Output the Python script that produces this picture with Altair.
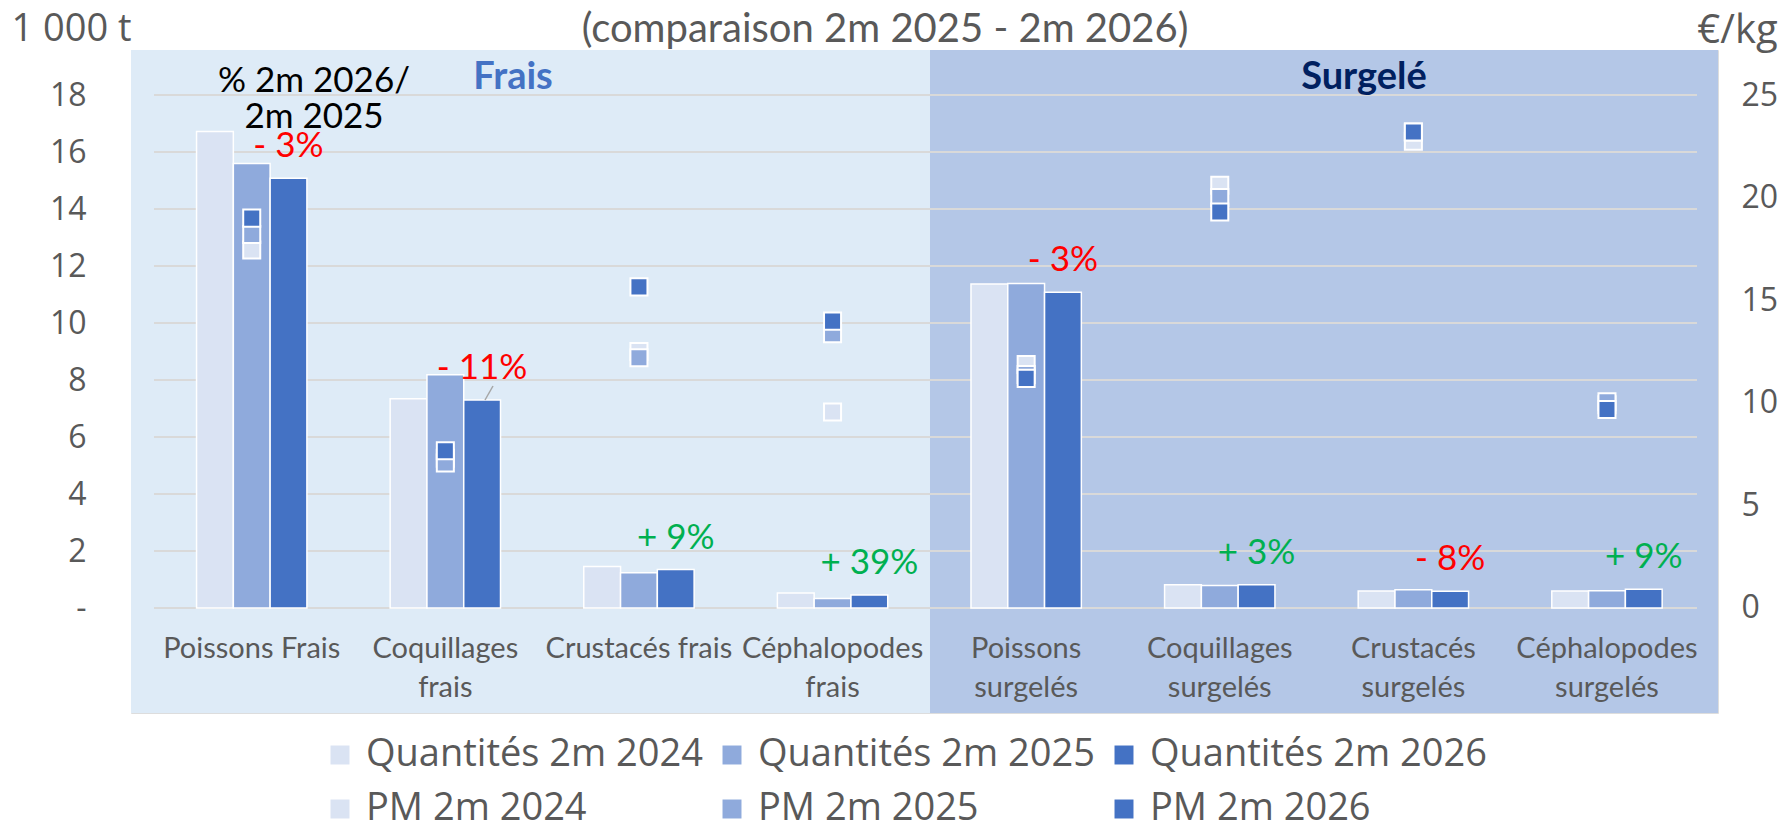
import altair as alt
import pandas as pd

# ---------------- data ----------------
categories = ["Poissons Frais", "Coquillages frais", "Crustacés frais", "Céphalopodes frais",
              "Poissons surgelés", "Coquillages surgelés", "Crustacés surgelés", "Céphalopodes surgelés"]
category_labels = ["Poissons Frais", "Coquillages\nfrais", "Crustacés frais", "Céphalopodes\nfrais",
                   "Poissons\nsurgelés", "Coquillages\nsurgelés", "Crustacés\nsurgelés", "Céphalopodes\nsurgelés"]
years = ["2024", "2025", "2026"]

qty_2024 = [16.72, 7.34, 1.46, 0.53, 11.37, 0.82, 0.60, 0.60]
qty_2025 = [15.60, 8.18, 1.24, 0.33, 11.39, 0.79, 0.64, 0.605]
qty_2026 = [15.08, 7.30, 1.35, 0.46, 11.08, 0.815, 0.59, 0.66]

pm_2024 = [17.45, 7.30, 12.50, 9.55, 11.87, 20.60, 22.75, 9.90]
pm_2025 = [18.20, 7.07, 12.20, 13.37, 11.38, 20.00, 23.20, 10.05]
pm_2026 = [19.00, 7.66, 15.65, 13.98, 11.19, 19.30, 23.20, 9.67]

pct_change = [-3, -11, 9, 39, -3, 3, -8, 9]

qty_ticks = [0, 2, 4, 6, 8, 10, 12, 14, 16, 18]
pm_ticks = [0, 5, 10, 15, 20, 25]

series_names = ["Quantités 2m 2024", "Quantités 2m 2025", "Quantités 2m 2026",
                "PM 2m 2024", "PM 2m 2025", "PM 2m 2026"]
series_colors = ["#DAE3F3", "#8FAADC", "#4472C4", "#DAE3F3", "#8FAADC", "#4472C4"]

# ---------------- tables ----------------
qty_rows, pm_rows = [], []
for i, c in enumerate(categories):
    for y, q, p in zip(years, (qty_2024[i], qty_2025[i], qty_2026[i]), (pm_2024[i], pm_2025[i], pm_2026[i])):
        qty_rows.append({"cat": c, "yr": y, "series": f"Quantités 2m {y}", "value": q})
        pm_rows.append({"cat": c, "yr": y, "series": f"PM 2m {y}", "value": p})
qty_df = pd.DataFrame(qty_rows)
pm_df = pd.DataFrame(pm_rows)

pct_df = pd.DataFrame({
    "cat": categories,
    "yr": ["2026"] * len(categories),
    "value": qty_2026,
    "label": [("- " if v < 0 else "+ ") + f"{abs(v)}%" for v in pct_change],
    "col": ["#FF0000" if v < 0 else "#00B050" for v in pct_change],
})
cat_df = pd.DataFrame({"cat": categories, "label": category_labels})
grid_df = pd.DataFrame({"g": qty_ticks})
one = pd.DataFrame({"a": [0]})

W, H = 1587, 663
FONT = "Lato"
AFONT = "Open Sans"
GREY = "#595959"

x_scale = alt.Scale(domain=categories, paddingInner=0.43, paddingOuter=0.3135, align=0.54)
xo_scale = alt.Scale(domain=years, paddingInner=0, paddingOuter=0)
y_left = alt.Scale(domain=[-3.684, 19.579], nice=False, zero=False)
y_right = alt.Scale(domain=[-5.117, 27.193], nice=False, zero=False)

left_axis = alt.Axis(orient="left", values=qty_ticks,
                     labelExpr="datum.value == 0 ? '-\u00a0\u00a0\u00a0' : datum.label",
                     labelFontSize=32, labelColor=GREY, labelPadding=45, labelFont=AFONT,
                     ticks=False, domain=False, grid=False,
                     title="1 000 t", titleAngle=0, titleX=-60, titleY=-21,
                     titleAlign="center", titleBaseline="middle", titleFontSize=38,
                     titleFontWeight="normal", titleColor=GREY, titleFont=AFONT)

X = alt.X("cat:N", scale=x_scale, axis=None, sort=categories)

# panels
panel_frais = alt.Chart(one).mark_rect(color="#DEEBF7").encode(
    x=alt.value(0), x2=alt.value(799), y=alt.value(0), y2=alt.value(H))
panel_surg = alt.Chart(one).mark_rect(color="#B4C7E7").encode(
    x=alt.value(799), x2=alt.value(W), y=alt.value(0), y2=alt.value(H))

grid = alt.Chart(grid_df).mark_rule(color="#D9D9D9", strokeWidth=2).encode(
    y=alt.Y("g:Q", scale=y_left, axis=left_axis),
    x=alt.value(23), x2=alt.value(1566))

legend = alt.Legend(
    orient="none", legendX=190, legendY=686, columns=3, direction="horizontal",
    title=None, symbolType="square", symbolSize=360, symbolStrokeWidth=0,
    labelFontSize=38, labelColor=GREY, labelFont=AFONT, labelLimit=600, labelOffset=7,
    columnPadding=10, rowPadding=16, padding=0,
)

bars = alt.Chart(qty_df).mark_bar(stroke="white", strokeWidth=1.5, opacity=1).encode(
    x=X,
    xOffset=alt.XOffset("yr:N", scale=xo_scale),
    y=alt.Y("value:Q", scale=y_left, axis=left_axis),
    y2=alt.Y2(datum=0),
    color=alt.Color("series:N", scale=alt.Scale(domain=series_names, range=series_colors),
                    legend=legend),
)

pct_text = alt.Chart(pct_df).mark_text(fontSize=35, font=FONT, baseline="middle", dy=-32).encode(
    x=X,
    xOffset=alt.XOffset("yr:N", scale=xo_scale),
    y=alt.Y("value:Q", scale=y_left, axis=left_axis),
    text="label:N",
    fill=alt.Fill("col:N", scale=None),
)

cat_text = alt.Chart(cat_df).mark_text(fontSize=29, font=FONT, baseline="alphabetic",
                                       lineBreak="\n", lineHeight=39, color=GREY).encode(
    x=X, y=alt.value(608), text="label:N")

leader = alt.Chart(one).mark_rule(color="#A6A6A6", strokeWidth=1.5).encode(
    x=alt.value(362), x2=alt.value(354), y=alt.value(336), y2=alt.value(350))

frais_txt = alt.Chart(one).mark_text(text="Frais", fontSize=38, fontWeight="bold", font=FONT,
                                     color="#4472C4", baseline="middle").encode(
    x=alt.value(382), y=alt.value(28))
surg_txt = alt.Chart(one).mark_text(text="Surgelé", fontSize=38, fontWeight="bold", font=FONT,
                                    color="#002060", baseline="middle").encode(
    x=alt.value(1233), y=alt.value(28))
note_txt = alt.Chart(one).mark_text(text=["% 2m 2026/", "2m 2025"], fontSize=35, font=FONT,
                                    color="black", baseline="middle", lineHeight=36).encode(
    x=alt.value(183), y=alt.value(31))
title_txt = alt.Chart(one).mark_text(text="(comparaison 2m 2025 - 2m 2026)", fontSize=40, font=FONT,
                                     color=GREY, baseline="middle").encode(
    x=alt.value(754), y=alt.value(-20))

left_group = alt.layer(panel_frais, panel_surg, grid, bars, pct_text, cat_text, leader,
                       frais_txt, surg_txt, note_txt, title_txt)

points = alt.Chart(pm_df).mark_square(size=290, stroke="white", strokeWidth=2, opacity=1, filled=True).encode(
    x=X,
    y=alt.Y("value:Q", scale=y_right,
            axis=alt.Axis(orient="right", values=pm_ticks, labelFontSize=32, labelColor=GREY,
                          labelPadding=23, labelFont=AFONT, ticks=False, domain=False, grid=False,
                          title="€/kg", titleAngle=0, titleX=19, titleY=-20,
                          titleAlign="center", titleBaseline="middle", titleFontSize=40,
                          titleFontWeight="normal", titleColor=GREY, titleFont=AFONT)),
    color=alt.Color("series:N", scale=alt.Scale(domain=series_names, range=series_colors)),
    order=alt.Order("yr:N"),
)

chart = alt.layer(left_group, points).resolve_scale(y="independent").properties(
    width=W, height=H,
    autosize=alt.AutoSizeParams(type="none"),
    padding={"left": 123, "top": 42, "right": 64, "bottom": 110},
    background="white",
).configure_view(stroke=None).configure(font=FONT)

chart.save("out.html", embed_options={"renderer": "svg", "actions": False})
